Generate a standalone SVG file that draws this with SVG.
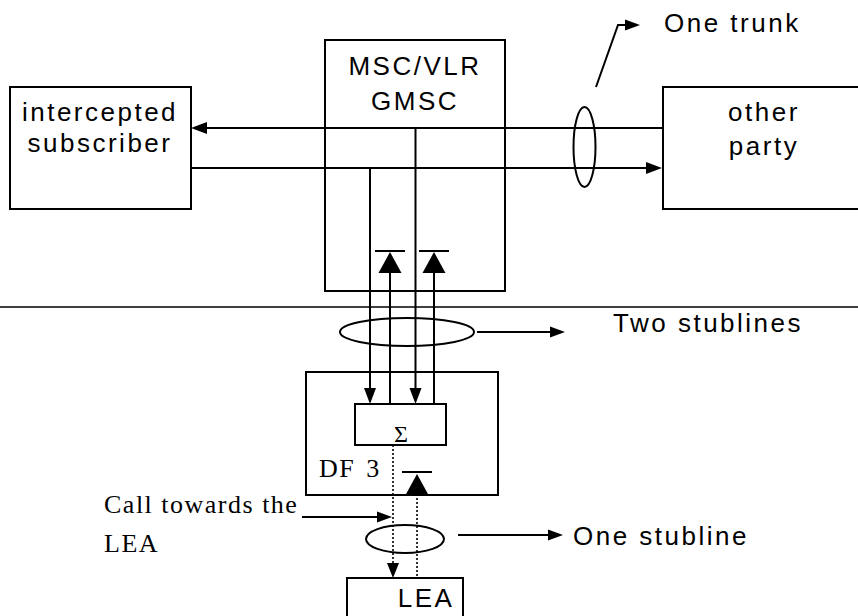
<svg xmlns="http://www.w3.org/2000/svg" width="858" height="616" viewBox="0 0 858 616">
<defs>
<style>
.box{fill:none;stroke:#000;stroke-width:2}
.ln{fill:none;stroke:#000;stroke-width:2}
.dot{fill:none;stroke:#000;stroke-width:1.6;stroke-dasharray:2,2}
.thin{fill:none;stroke:#000;stroke-width:1.3}
.ah{fill:#000}
.sans{font-family:"Liberation Sans",Arial,sans-serif;font-size:26px;letter-spacing:2.5px;fill:#000}
.serif{font-family:"Liberation Serif","Times New Roman",serif;font-size:26px;letter-spacing:1.5px;fill:#000}
</style>
</defs>
<rect width="858" height="616" fill="#fff"/>
<g id="intercepted-subscriber">
<rect class="box" x="10" y="87" width="181" height="122"/>
<text class="sans" x="100" y="121" text-anchor="middle">intercepted</text>
<text class="sans" x="100" y="152" text-anchor="middle">subscriber</text>
</g>
<g id="msc">
<rect class="box" x="325" y="40" width="180" height="251"/>
<text class="sans" x="415" y="75" text-anchor="middle">MSC/VLR</text>
<text class="sans" x="415" y="110" text-anchor="middle">GMSC</text>
</g>
<g id="other-party">
<rect class="box" x="663" y="87" width="200" height="122"/>
<text class="sans" x="764" y="121" text-anchor="middle">other</text>
<text class="sans" x="764" y="155" text-anchor="middle">party</text>
</g>
<g id="df3">
<rect class="box" x="306" y="372" width="192" height="123"/>
<text class="serif" x="319" y="477" word-spacing="3">DF 3</text>
</g>
<g id="sigma">
<rect class="box" x="355" y="404" width="91" height="41"/>
<text class="serif" x="401" y="442" text-anchor="middle" style="font-size:24px;letter-spacing:0">Σ</text>
</g>
<g id="lea">
<rect class="box" x="347" y="578" width="116" height="50"/>
<text class="sans" x="426" y="607" text-anchor="middle">LEA</text>
</g>
<g id="labels">
<text class="sans" x="664" y="32">One trunk</text>
<text class="sans" x="613" y="332">Two stublines</text>
<text class="sans" x="573" y="545">One stubline</text>
<text class="serif" x="104" y="513">Call towards the</text>
<text class="serif" x="104" y="552">LEA</text>
</g>
<g id="connectors">
<line class="thin" x1="0" y1="307" x2="858" y2="307"/>
<line class="ln" x1="662" y1="128" x2="205" y2="128"/>
<polygon class="ah" points="191,128 207,122 207,134"/>
<line class="ln" x1="191" y1="168" x2="648" y2="168"/>
<polygon class="ah" points="662,168 646,162 646,174"/>
<ellipse class="ln" cx="584.5" cy="147" rx="11" ry="40"/>
<polyline class="ln" points="596,87 618,25 628,25"/>
<polygon class="ah" points="640,25 625,19.5 625,30.5"/>
<line class="ln" x1="370" y1="168" x2="370" y2="390"/>
<polygon class="ah" points="370,404 364,388 376,388"/>
<line class="ln" x1="415.5" y1="128" x2="415.5" y2="390"/>
<polygon class="ah" points="415.5,404 409.5,388 421.5,388"/>
<line class="ln" x1="390" y1="404" x2="390" y2="270"/>
<polygon class="ah" points="390,252 378.5,273 401.5,273"/>
<line class="ln" x1="375" y1="251" x2="405" y2="251"/>
<line class="ln" x1="434" y1="404" x2="434" y2="270"/>
<polygon class="ah" points="434,252 422.5,273 445.5,273"/>
<line class="ln" x1="419" y1="251" x2="449" y2="251"/>
<ellipse class="ln" cx="407" cy="332" rx="67" ry="14"/>
<line class="ln" x1="477" y1="332" x2="552" y2="332"/>
<polygon class="ah" points="565,332 550,326.5 550,337.5"/>
<line class="dot" x1="393" y1="445" x2="393" y2="565"/>
<polygon class="ah" points="393,578 387,563 399,563"/>
<line class="dot" x1="417" y1="494" x2="417" y2="578"/>
<polygon class="ah" points="417,474 405.5,495 428.5,495"/>
<line class="ln" x1="402" y1="472" x2="432" y2="472"/>
<line class="ln" x1="302" y1="517" x2="380" y2="517"/>
<polygon class="ah" points="392,517 377,511.5 377,522.5"/>
<ellipse class="ln" cx="405" cy="539" rx="39" ry="14"/>
<line class="ln" x1="458" y1="535" x2="550" y2="535"/>
<polygon class="ah" points="563,535 548,529.5 548,540.5"/>
</g>
</svg>
